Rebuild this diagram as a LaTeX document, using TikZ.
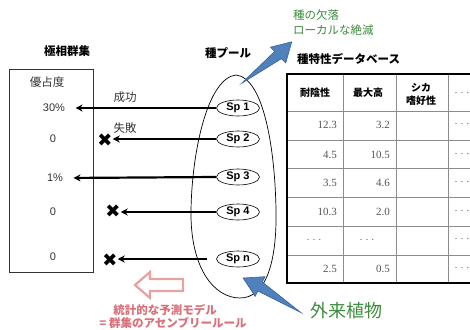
\documentclass[tikz,border=0pt]{standalone}
\usepackage{fontspec}
\setmainfont{Liberation Sans}
\newfontfamily\jp{Noto Sans CJK JP}
\newfontfamily\numserif{Liberation Serif}
\newfontfamily\dejavu{DejaVu Sans}
\usetikzlibrary{arrows.meta,shapes.geometric}
\definecolor{poolblue}{HTML}{4F81BD}
\definecolor{pooledge}{HTML}{3A6496}
\definecolor{greentxt}{HTML}{3C8C3C}
\definecolor{pinktxt}{HTML}{D9707A}
\definecolor{pinkarrow}{HTML}{E8A0A0}
\definecolor{numgray}{HTML}{555555}
\definecolor{gridgray}{HTML}{8C8C8C}
\definecolor{labgray}{HTML}{333333}
\tikzset{
  title/.style={font=\jp\bfseries\fontsize{11.5}{13}\selectfont, text=black},
  spnode/.style={ellipse, draw, line width=0.6pt, fill=white, minimum width=43pt, minimum height=16pt, inner sep=0pt, font=\bfseries\fontsize{11}{12}\selectfont},
  valnode/.style={font=\fontsize{11}{12}\selectfont, text=labgray},
  conn/.style={line width=2.2pt, -{Stealth[length=7pt,width=7pt]}},
  xmark/.style={font=\dejavu\fontsize{18}{18}\selectfont, inner sep=0pt},
  lab/.style={font=\jp\fontsize{11.5}{13}\selectfont, text=labgray},
  hdr/.style={font=\jp\bfseries\fontsize{10}{13}\selectfont, align=center},
  num/.style={font=\numserif\fontsize{11}{12}\selectfont, text=numgray, anchor=east, inner sep=0pt},
  dots/.style={font=\numserif\fontsize{10}{12}\selectfont, text=numgray, inner sep=0pt},
  bluearrow/.style={fill=poolblue, draw=pooledge, line width=0.6pt},
}
\begin{document}
\begin{tikzpicture}[x=1pt,y=-1pt]
\useasboundingbox (0,0) rectangle (470,329);
\clip (0,0) rectangle (470,329);
\fill[white] (0,0) rectangle (470,329);

% left: climax community
\node[title] (tclimax) at (67,51) {極相群集};
\draw[line width=0.7pt, draw=labgray] (9,69) rectangle (93,272);
\node[lab] (dom) at (47,82) {優占度};
\node[valnode] (v1) at (54,108) {30\%};
\node[valnode] (v2) at (53,139) {0};
\node[valnode] (v3) at (55,178) {1\%};
\node[valnode] (v4) at (53,212) {0};
\node[valnode] (v5) at (53,257) {0};

% species pool
\node[title] (tpool) at (228,53) {種プール};
\draw[line width=0.7pt] (236,75) .. controls (208,78) and (192,150) .. (191,210)
  .. controls (190,268) and (214,298) .. (240,298)
  .. controls (266,298) and (277,262) .. (276,210)
  .. controls (275,150) and (264,78) .. (236,75);
\node[spnode] (sp1) at (238,108) {Sp 1};
\node[spnode] (sp2) at (238,139) {Sp 2};
\node[spnode] (sp3) at (238,177) {Sp 3};
\node[spnode] (sp4) at (238,212) {Sp 4};
\node[spnode] (spn) at (238,259) {Sp n};

% X marks
\node[xmark] (x2) at (105,140) {✖};
\node[xmark] (x4) at (113,211) {✖};
\node[xmark] (x5) at (110,260) {✖};

% connectors
\draw[conn, shorten >=7pt] (sp1.west) -- (v1.east);
\draw[conn] (sp2.west) -- (sp2.west -| x2.east);
\draw[conn, shorten >=7pt] (sp3.west) -- (v3.east);
\draw[conn] (sp4.west) -- (sp4.west -| x4.east);
\draw[conn, shorten <=9pt] (spn.west) -- (spn.west -| x5.east);
\node[lab, anchor=south] (succ) at (125,106) {成功};
\node[lab, anchor=south] (fail) at (125,137) {失敗};

% blue arrows
\begin{scope}[shift={(245,87)}, rotate=44]
  \draw[bluearrow] (0,-5) -- (46,-5) -- (46,-11) -- (65,0) -- (46,11) -- (46,5) -- cycle;
\end{scope}
\begin{scope}[shift={(303,308)}, rotate=153.4]
  \draw[bluearrow] (0,-5) -- (48,-5) -- (48,-11) -- (67,0) -- (48,11) -- (48,5) -- cycle;
\end{scope}
\node[font=\jp\fontsize{11.5}{15}\selectfont, text=greentxt, align=left, anchor=north west, inner sep=0pt] (loss) at (293,10) {種の欠落\\ローカルな絶滅};
\node[font=\jp\fontsize{18}{20}\selectfont, text=greentxt] (alien) at (346,311) {外来植物};

% trait database
\node[title, anchor=west, inner sep=0pt] (tdb) at (297,59) {種特性データベース};
\foreach \yy in {111,140,168,197,226,255} \draw[gridgray, line width=0.7pt] (287,\yy) -- (480,\yy);
\foreach \xx in {343,396,448} \draw[gridgray, line width=0.7pt] (\xx,74) -- (\xx,283);
\draw[line width=1.8pt] (480,74) -- (287,74) -- (287,283) -- (480,283);
\node[hdr] (h1) at (315,93) {耐陰性};
\node[hdr] (h2) at (368,93) {最大高};
\node[hdr] (h3) at (421,94) {シカ\\嗜好性};
\node[dots] (h4) at (462,93) {.\,\,.\,\,.};
\node[num] at (337,125) {12.3};
\node[num] at (390,125) {3.2};
\node[num] at (337,155) {4.5};
\node[num] at (390,155) {10.5};
\node[num] at (337,183) {3.5};
\node[num] at (390,183) {4.6};
\node[num] at (337,212) {10.3};
\node[num] at (390,212) {2.0};
\node[dots] at (314,240) {.\,\,.\,\,.};
\node[dots] at (367,240) {.\,\,.\,\,.};
\node[num] at (337,269) {2.5};
\node[num] at (390,269) {0.5};
\foreach \yy in {125,155,183,212,240,269} \node[dots] at (462,\yy-1) {.\,\,.\,\,.};

% pink hollow arrow and model text
\draw[pinkarrow, line width=2.2pt, fill=white, line join=miter] (135,285) -- (150,272) -- (150,279) -- (183,279) -- (183,291) -- (150,291) -- (150,298) -- cycle;
\node[font=\jp\bfseries\fontsize{11.5}{13}\selectfont, text=pinktxt] (model) at (165,310) {統計的な予測モデル};
\node[font=\jp\bfseries\fontsize{11.5}{13}\selectfont, text=pinktxt] (rule) at (173,323) {= 群集のアセンブリールール};
\end{tikzpicture}
\end{document}
